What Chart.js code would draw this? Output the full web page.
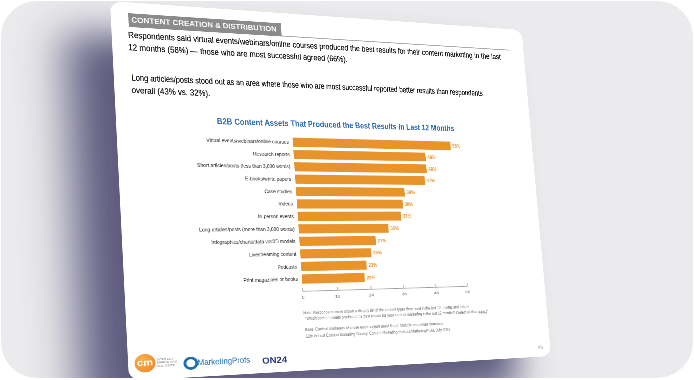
<!DOCTYPE html>
<html><head><meta charset="utf-8">
<script src="https://cdn.jsdelivr.net/npm/chart.js@4.4.1/dist/chart.umd.min.js"></script>
<style>
html,body{margin:0;padding:0;background:#fff;width:694px;height:380px;overflow:hidden;}
#frame{position:absolute;left:1px;top:1px;width:692px;height:377px;border-radius:36px;background:#ebebed;overflow:hidden;}
#page{position:absolute;left:0;top:0;width:840px;height:768px;background:#fff;border-radius:22px;transform-origin:0 0;
  box-shadow:-80px 70px 80px rgba(58,54,98,0.8);font-family:"Liberation Sans","Arial",sans-serif;color:#141414;}
.abs{position:absolute;white-space:nowrap;transform-origin:0 50%;}
#tab{background:#8b8b8b;}
#tabt{color:#fff;font-weight:bold;}
#rule{height:0;border-top:2px solid #a8a8a8;}
#ctitle{color:#2d6cb3;font-weight:bold;}
.para{text-shadow:0 0 0.6px #141414;}
.foot{color:#6a6a6a;}
#cm{border-radius:50%;background:radial-gradient(circle at 35% 35%,#f9b44a,#ec7f22);color:#fff;font-weight:bold;text-align:center;}
</style></head>
<body>
<div id="frame"><div id="page">
  <div id="tab" class="abs"></div>
  <div id="tabt" class="abs">CONTENT CREATION &amp; DISTRIBUTION</div>
  <div id="rule" class="abs"></div>
  <div id="p1" class="abs para">Respondents said virtual events/webinars/online courses produced the best results for their content marketing in the last</div>
  <div id="p2" class="abs para">12 months (58%) — those who are most successful agreed (66%).</div>
  <div id="p3" class="abs para">Long articles/posts stood out as an area where those who are most successful reported better results than respondents</div>
  <div id="p4" class="abs para">overall (43% vs. 32%).</div>
  <div id="ctitle" class="abs">B2B Content Assets That Produced the Best Results in Last 12 Months</div>
  <canvas id="chart" class="abs"></canvas>
  <div id="f1" class="abs foot">Note: Respondents were shown a display list of the content types they used in the last 12 months and asked,</div>
  <div id="f2" class="abs foot">“Which content assets produced the best results for your content marketing in the last 12 months? (Select all that apply.)”</div>
  <div id="f3" class="abs foot">Base: Content marketers who use each content asset listed. Multiple responses permitted.</div>
  <div id="f4" class="abs foot">12th Annual Content Marketing Survey: Content Marketing Institute/MarketingProfs, July 2021</div>
  <div id="pnum" class="abs foot">26</div>
  <div id="cm" class="abs">cm</div>
  <div id="cmt" class="abs" style="color:#777;font-size:6px;line-height:6.5px;">CONTENT<br>MARKETING<br>INSTITUTE</div>
  <div id="mpi" class="abs" style="border-radius:50%;border:5px solid #1d6db6;box-sizing:border-box;"></div>
  <div id="mp" class="abs" style="color:#1d6db6;">MarketingProfs</div>
  <div id="on" class="abs" style="color:#26377f;font-weight:bold;">ON24</div>
</div></div>
<script>
// ---------- data ----------
const categories = [
  "Virtual events/webinars/online courses",
  "Research reports",
  "Short articles/posts (less than 3,000 words)",
  "E-books/white papers",
  "Case studies",
  "Videos",
  "In-person events",
  "Long articles/posts (more than 3,000 words)",
  "Infographics/charts/data viz/3D models",
  "Livestreaming content",
  "Podcasts",
  "Print magazines or books"
];
const values = [58, 48, 48, 47, 39, 38, 37, 32, 27, 25, 23, 22];
const tickValues = [0, 12, 24, 36, 48, 60];

// ---------- perspective of the photographed page ----------
const PW = 840, PH = 768;
const quad = [[110,1],[521.5,30],[551,356],[129,381]]; // image coords of page corners
function solve(A,b){const n=b.length;A=A.map((r,i)=>r.concat([b[i]]));
  for(let c=0;c<n;c++){let p=c;for(let r=c+1;r<n;r++)if(Math.abs(A[r][c])>Math.abs(A[p][c]))p=r;
    [A[c],A[p]]=[A[p],A[c]];
    for(let r=0;r<n;r++){if(r===c)continue;const f=A[r][c]/A[c][c];for(let k=c;k<=n;k++)A[r][k]-=f*A[c][k];}}
  return A.map((r,i)=>r[n]/r[i]);}
function homography(src,dst){const A=[],b=[];
  for(let i=0;i<4;i++){const [x,y]=src[i],[X,Y]=dst[i];
    A.push([x,y,1,0,0,0,-X*x,-X*y]);b.push(X);A.push([0,0,0,x,y,1,-Y*x,-Y*y]);b.push(Y);}
  return solve(A,b).concat([1]);}
function inv3(m){const [a,b,c,d,e,f,g,h,i]=m;
  const A=e*i-f*h,B=-(d*i-f*g),C=d*h-e*g,D=-(b*i-c*h),E=a*i-c*g,F=-(a*h-b*g),G=b*f-c*e,H=-(a*f-c*d),I=a*e-b*d;
  const det=a*A+b*B+c*C;return [A/det,D/det,G/det,B/det,E/det,H/det,C/det,F/det,I/det];}
function apply(m,x,y){const w=m[6]*x+m[7]*y+m[8];return [(m[0]*x+m[1]*y+m[2])/w,(m[3]*x+m[4]*y+m[5])/w];}
const Hm = homography([[0,0],[PW,0],[PW,PH],[0,PH]], quad.map(q=>[q[0]-1,q[1]-1]));
const Hi = inv3(Hm);
document.getElementById('page').style.transform =
  `matrix3d(${Hm[0]},${Hm[3]},0,${Hm[6]},${Hm[1]},${Hm[4]},0,${Hm[7]},0,0,1,0,${Hm[2]},${Hm[5]},0,${Hm[8]})`;
function P(x,y){const r=apply(Hi,x-1,y-1);return {u:r[0],v:r[1]};}

// text line: left-middle anchor at image (x,y), font size in page units, optionally squeezed to end at image point
function placeText(id,x,y,size,opts={}){
  const el=document.getElementById(id);el.style.fontSize=size+'px';el.style.lineHeight=(size*1.2)+'px';
  const p=P(x,y);let sx=opts.sx||1;
  if(opts.fitTo){const q=P(opts.fitTo[0],opts.fitTo[1]);sx=(q.u-p.u)/el.offsetWidth;}
  el.style.transform=`scaleX(${sx})`;
  el.style.left=p.u+'px';
  el.style.top=(p.v-size*0.6)+'px';
  return sx;
}
// header tab
(function(){const tl=P(128,13),bl=P(128,27),tr=P(281,24);const t=document.getElementById('tab');
  const h=bl.v-tl.v;t.style.left=tl.u+'px';t.style.top=tl.v+'px';t.style.height=h+'px';t.style.width=(tr.u-tl.u)+'px';
  const r=document.getElementById('rule');const e=P(510,55);r.style.left=tr.u+'px';r.style.top=(bl.v-2)+'px';r.style.width=(e.u-tr.u)+'px';})();
placeText('tabt',131,20,16,{fitTo:[276,29]});
const ps=placeText('p1',128,35,17.5,{fitTo:[500,50]});
placeText('p2',128,47.5,17.5,{sx:ps});
placeText('p3',131.5,78,17.5,{fitTo:[483,99]});
placeText('p4',131.5,90.5,17.5,{sx:ps});
placeText('ctitle',217,121.5,18.5,{fitTo:[454,128.5]});
const fs=placeText('f2',305,318.3,9.5,{fitTo:[488,312]});
placeText('f1',303,312.7,9.5,{sx:fs});
placeText('f3',305,329.3,9.5,{sx:fs});
placeText('f4',306,336,9.5,{sx:fs});
placeText('pnum',538,348,10);
(function(){const c=P(145,363);const el=document.getElementById('cm');const d=36;el.style.width=d+'px';el.style.height=d+'px';
  el.style.left=(c.u-d/2)+'px';el.style.top=(c.v-d/2)+'px';el.style.fontSize='19px';el.style.lineHeight=(d-2)+'px';
  const t=P(157,363);const ct=document.getElementById('cmt');ct.style.left=t.u+'px';ct.style.top=(t.v-10)+'px';
  const m=P(191,363);const mi=document.getElementById('mpi');const md=26;mi.style.width=md+'px';mi.style.height=md+'px';mi.style.left=(m.u-md/2)+'px';mi.style.top=(m.v-md/2)+'px';})();
placeText('mp',197.5,363,17,{fitTo:[250,363]});
placeText('on',262,361,18,{fitTo:[287,361]});

// ---------- chart geometry inside the page ----------
const a1=P(292,142.3), a12=P(302,279.3), ax0=P(303,291.5), ax60=P(467,287.5), lab=P(303,297);
const u0=(a1.u+a12.u+ax0.u)/3;
const band=(a12.v-a1.v)/11;
const caTop=a1.v-band/2, caBottom=a12.v+band/2;
const yW=240, rightPad=60, xAxisH=40;
const Lc=u0-yW, Tc=caTop;
const Wc=Math.round(ax60.u-Lc+rightPad), Hc=Math.round(caBottom-Tc+xAxisH);
const axisGap=ax0.v-caBottom;
const tickFont=9.5;
const tickPad=Math.max(0,lab.v-caBottom-tickFont/2);
const cv=document.getElementById('chart');
cv.width=Wc;cv.height=Hc;cv.style.left=Lc+'px';cv.style.top=Tc+'px';cv.style.width=Wc+'px';cv.style.height=Hc+'px';

const orange='#e8932b';
const narrow=0.8;
const axisPlugin={id:'axisLine',afterDraw(chart){
  const {ctx,chartArea}=chart;const x=chart.scales.x;const y=chartArea.bottom+axisGap;
  ctx.save();ctx.strokeStyle='#999';ctx.lineWidth=1.4;ctx.beginPath();
  ctx.moveTo(x.getPixelForValue(tickValues[0]),y);ctx.lineTo(x.getPixelForValue(tickValues[tickValues.length-1]),y);
  tickValues.forEach(t=>{const px=x.getPixelForValue(t);ctx.moveTo(px,y);ctx.lineTo(px,y-7);});
  ctx.stroke();ctx.restore();}};
// category labels, drawn condensed at the y scale's positions
const catPlugin={id:'catLabels',afterDraw(chart){
  const {ctx,chartArea}=chart;const ys=chart.scales.y;
  ctx.save();ctx.fillStyle='#222';ctx.font='11.5px "Liberation Sans", sans-serif';ctx.textAlign='right';ctx.textBaseline='middle';
  categories.forEach((c,i)=>{const py=ys.getPixelForValue(i);const px=chartArea.left-8;
    ctx.save();ctx.translate(px,py);ctx.scale(narrow,1);ctx.fillText(c,0,0.5);ctx.restore();});
  ctx.restore();}};
const valuePlugin={id:'valueLabels',afterDatasetsDraw(chart){
  const {ctx}=chart;const meta=chart.getDatasetMeta(0);
  ctx.save();ctx.fillStyle=orange;ctx.font='bold 11px "Liberation Sans", sans-serif';ctx.textBaseline='middle';ctx.textAlign='left';
  meta.data.forEach((bar,i)=>{ctx.save();ctx.translate(bar.x+4,bar.y+1);ctx.scale(narrow,1);ctx.fillText(values[i]+'%',0,0);ctx.restore();});
  ctx.restore();}};

new Chart(cv,{type:'bar',
  data:{labels:categories,datasets:[{data:values,backgroundColor:orange,borderWidth:0,barPercentage:0.74,categoryPercentage:1}]},
  options:{indexAxis:'y',responsive:false,animation:false,devicePixelRatio:1,
    layout:{padding:{left:0,right:rightPad,top:0,bottom:0}},
    plugins:{legend:{display:false},tooltip:{enabled:false},title:{display:false}},
    scales:{
      y:{afterFit(s){s.width=yW;},grid:{display:false},border:{display:false},ticks:{display:false}},
      x:{min:0,max:60,afterFit(s){s.height=xAxisH;},afterBuildTicks(s){s.ticks=tickValues.map(v=>({value:v}));},
         grid:{display:false,drawTicks:false},border:{display:false},
         ticks:{color:'#666',padding:tickPad,font:{family:'"Liberation Sans", sans-serif',size:tickFont}}}
    }},
  plugins:[axisPlugin,catPlugin,valuePlugin]});
</script>
</body></html>
